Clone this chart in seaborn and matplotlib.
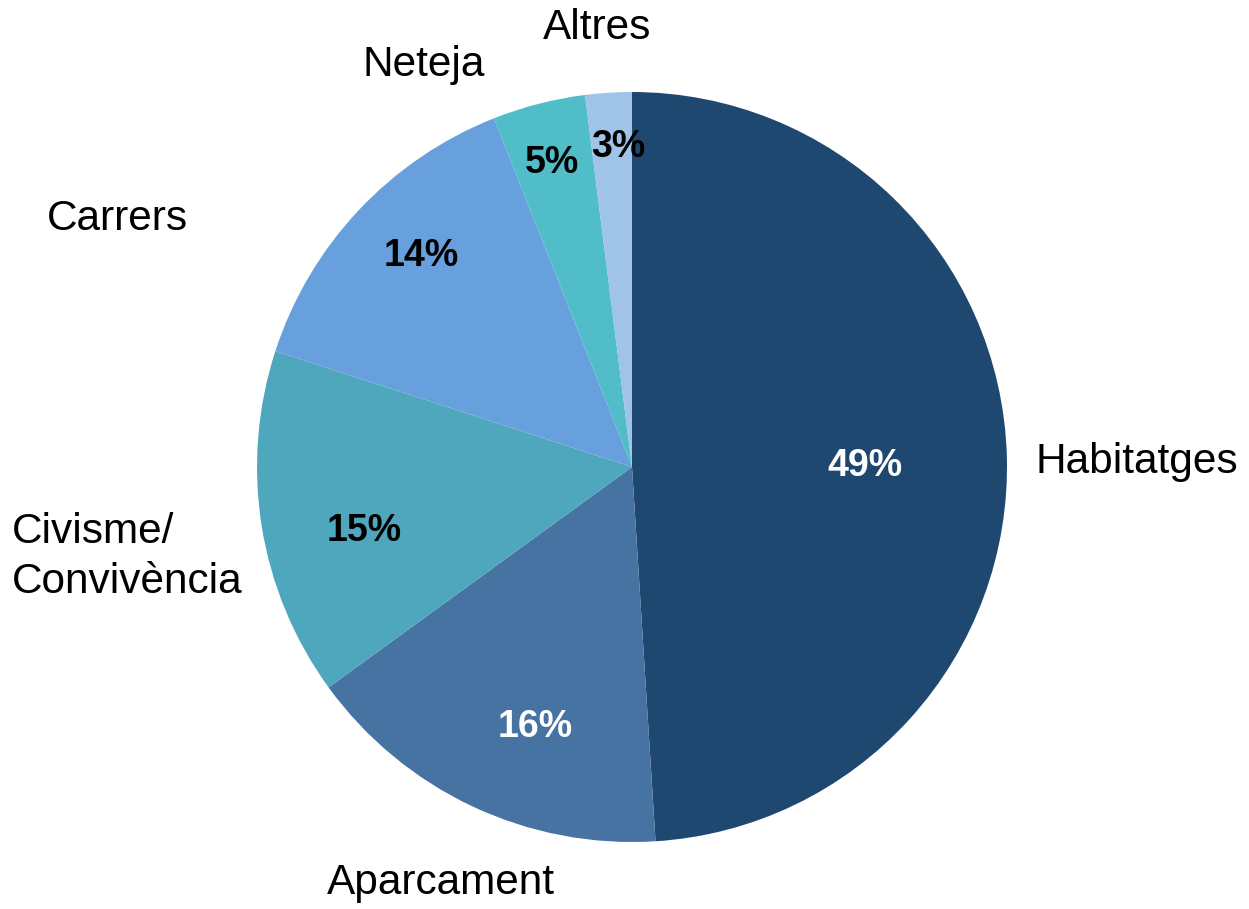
import matplotlib
matplotlib.use("Agg")
import matplotlib.pyplot as plt
import seaborn as sns

sns.set_theme(style="white")
plt.rcParams['font.family'] = ['Liberation Sans', 'DejaVu Sans']

# data (shares in %, clockwise from 12 o'clock)
categories = ["Habitatges", "Aparcament", "Civisme/\nConvivència", "Carrers", "Neteja", "Altres"]
shares = [49.0, 16.0, 15.0, 14.0, 4.0, 2.0]
pct_labels = ["49%", "16%", "15%", "14%", "5%", "3%"]

colors = ["#1F4871", "#4673A2", "#4FA7BD", "#67A0DD", "#50BDC9", "#9FC4E8"]
pct_colors = ["white", "white", "black", "black", "black", "black"]

# label anchors (data units, radius = 1)
cat_pos = [(1.347, 0.013), (-0.509, -1.109), (-1.653, -0.24), (-1.371, 0.661), (-0.555, 1.072), (-0.093, 1.171)]
cat_ha = ["center", "center", "left", "center", "center", "center"]
pct_pos = [(0.621, 0.003), (-0.259, -0.693), (-0.715, -0.171), (-0.563, 0.563), (-0.213, 0.811), (-0.037, 0.853)]

fig = plt.figure(figsize=(12.49, 9.09), dpi=100)
ax = fig.add_axes([0, 0, 1, 1])

ax.pie(shares, colors=colors, startangle=90, counterclock=False,
       wedgeprops=dict(linewidth=0))

for name, (x, y), ha in zip(categories, cat_pos, cat_ha):
    ax.text(x, y, name, ha=ha, va="center", fontsize=30.5, color="black",
            linespacing=1.3, multialignment="left")

for lab, (x, y), c in zip(pct_labels, pct_pos, pct_colors):
    ax.text(x, y, lab, ha="center", va="center", fontsize=27, fontweight="bold", color=c)

# pie centre at (632, 467) px, radius 375 px
ax.set_xlim(-632 / 375, (1249 - 632) / 375)
ax.set_ylim(-(909 - 467) / 375, 467 / 375)
ax.set_aspect("auto")
ax.axis("off")

fig.savefig("out.png", dpi=100)
